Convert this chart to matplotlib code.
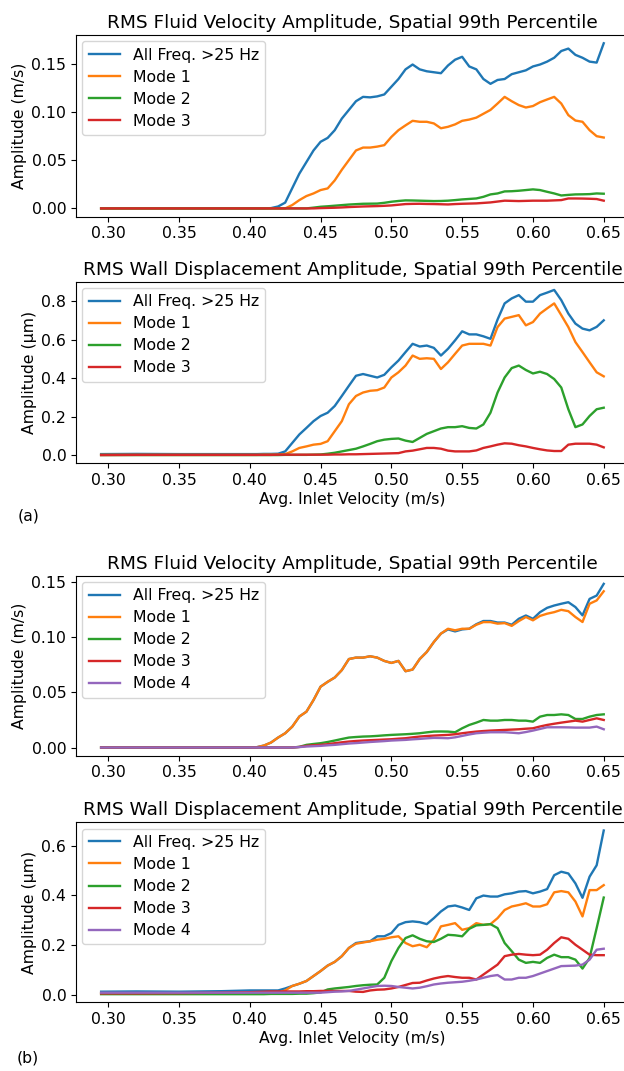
import numpy as np
import matplotlib
matplotlib.use("Agg")
import matplotlib.pyplot as plt

# sample positions (avg. inlet velocity, m/s)
v_low = [0.295, 0.32, 0.35, 0.38]
v_grid = [round(0.40 + 0.005 * i, 3) for i in range(51)]
vel = np.array(v_low + v_grid)

labels_a = ["All Freq. >25 Hz", "Mode 1", "Mode 2", "Mode 3"]
labels_b = ["All Freq. >25 Hz", "Mode 1", "Mode 2", "Mode 3", "Mode 4"]

# (a) fluid velocity, m/s
fa_all = [0, 0, 0, 0,
          0, 0, 0, 0.0003, 0.002, 0.006, 0.021, 0.036, 0.048, 0.060,
          0.069, 0.073, 0.081, 0.093, 0.102, 0.111, 0.1155, 0.115, 0.116, 0.118,
          0.126, 0.134, 0.144, 0.149, 0.144, 0.142, 0.141, 0.140, 0.148, 0.154,
          0.157, 0.147, 0.144, 0.134, 0.129, 0.133, 0.134, 0.139, 0.141, 0.143,
          0.147, 0.149, 0.152, 0.156, 0.163, 0.1655, 0.159, 0.156, 0.152, 0.151,
          0.171]
fa_m1 = [0, 0, 0, 0,
         0, 0, 0, 0, 0, 0, 0.0035, 0.0086, 0.0128, 0.0155,
         0.019, 0.0207, 0.029, 0.040, 0.050, 0.060, 0.063, 0.063, 0.064, 0.0655,
         0.074, 0.081, 0.086, 0.0907, 0.0897, 0.0897, 0.088, 0.083, 0.0845, 0.087,
         0.0907, 0.092, 0.094, 0.098, 0.102, 0.1086, 0.1155, 0.111, 0.107, 0.1045,
         0.106, 0.110, 0.1128, 0.1155, 0.1086, 0.0966, 0.091, 0.0897, 0.081, 0.0748,
         0.0734]
fa_m2 = [0, 0, 0, 0,
         0, 0, 0, 0, 0, 0, 0, 0, 0, 0.0008,
         0.0017, 0.0022, 0.0028, 0.0034, 0.004, 0.0044, 0.0048, 0.0049, 0.005, 0.0058,
         0.0069, 0.0077, 0.0083, 0.0082, 0.008, 0.0078, 0.0076, 0.0077, 0.008, 0.0086,
         0.0093, 0.0098, 0.0103, 0.012, 0.0145, 0.0155, 0.0176, 0.0178, 0.0183, 0.019,
         0.0197, 0.019, 0.0172, 0.0155, 0.0134, 0.014, 0.0145, 0.0146, 0.0148, 0.0155,
         0.0152]
fa_m3 = [0, 0, 0, 0,
         0, 0, 0, 0, 0, 0, 0, 0, 0, 0,
         0.0003, 0.0005, 0.0007, 0.001, 0.0014, 0.0017, 0.002, 0.0022, 0.0024, 0.0027,
         0.0031, 0.0038, 0.0045, 0.0047, 0.0048, 0.0046, 0.0045, 0.0043, 0.0041, 0.0045,
         0.0048, 0.005, 0.0052, 0.0057, 0.0062, 0.0071, 0.008, 0.0078, 0.0076, 0.0078,
         0.008, 0.008, 0.008, 0.0083, 0.0086, 0.0103, 0.0103, 0.0102, 0.01, 0.0097,
         0.008]

# (a) wall displacement, um
wa_all = [0.005, 0.006, 0.005, 0.005,
          0.005, 0.005, 0.006, 0.006, 0.007, 0.019, 0.063, 0.107, 0.141, 0.176,
          0.203, 0.22, 0.255, 0.307, 0.36, 0.412, 0.421, 0.412, 0.403, 0.417,
          0.456, 0.491, 0.535, 0.578, 0.564, 0.569, 0.557, 0.517, 0.552, 0.596,
          0.643, 0.627, 0.627, 0.617, 0.604, 0.704, 0.788, 0.814, 0.831, 0.797,
          0.797, 0.831, 0.844, 0.858, 0.805, 0.735, 0.683, 0.657, 0.648, 0.666,
          0.70]
wa_m1 = [0.001, 0.001, 0.001, 0.001,
         0.001, 0.001, 0.002, 0.002, 0.002, 0.005, 0.019, 0.037, 0.045, 0.054,
         0.058, 0.072, 0.124, 0.176, 0.264, 0.307, 0.325, 0.334, 0.337, 0.351,
         0.403, 0.43, 0.465, 0.517, 0.50, 0.503, 0.50, 0.447, 0.482, 0.526,
         0.569, 0.578, 0.578, 0.578, 0.569, 0.665, 0.709, 0.718, 0.727, 0.674,
         0.691, 0.735, 0.762, 0.788, 0.727, 0.665, 0.587, 0.535, 0.482, 0.43,
         0.409]
wa_m2 = [0, 0, 0, 0,
         0, 0, 0, 0, 0, 0.001, 0.001, 0.001, 0.001, 0.002,
         0.003, 0.007, 0.012, 0.019, 0.026, 0.033, 0.045, 0.058, 0.072, 0.080,
         0.084, 0.086, 0.075, 0.068, 0.089, 0.11, 0.124, 0.138, 0.145, 0.145,
         0.150, 0.141, 0.138, 0.159, 0.22, 0.325, 0.403, 0.452, 0.465, 0.442,
         0.424, 0.433, 0.421, 0.395, 0.351, 0.238, 0.145, 0.159, 0.203, 0.238,
         0.246]
wa_m3 = [0, 0.001, 0.001, 0.001,
         0.001, 0.001, 0.001, 0.001, 0.002, 0.002, 0.002, 0.002, 0.002, 0.002,
         0.002, 0.002, 0.003, 0.003, 0.004, 0.004, 0.005, 0.006, 0.007, 0.008,
         0.009, 0.010, 0.019, 0.023, 0.03, 0.037, 0.037, 0.033, 0.023, 0.019,
         0.019, 0.019, 0.024, 0.037, 0.045, 0.054, 0.061, 0.059, 0.051, 0.045,
         0.037, 0.03, 0.024, 0.021, 0.021, 0.054, 0.059, 0.059, 0.059, 0.054,
         0.04]

# (b) fluid velocity, m/s
fb_all = [0, 0, 0, 0,
          0, 0.0003, 0.0018, 0.0045, 0.009, 0.0129, 0.0189, 0.028, 0.0324, 0.0429,
          0.055, 0.0594, 0.0633, 0.070, 0.080, 0.0813, 0.0813, 0.0825, 0.0813, 0.0783,
          0.0765, 0.0783, 0.069, 0.0705, 0.080, 0.0864, 0.0954, 0.103, 0.1068, 0.105,
          0.1068, 0.1074, 0.1115, 0.1144, 0.1144, 0.113, 0.113, 0.111, 0.1164, 0.1194,
          0.1164, 0.1224, 0.1263, 0.1284, 0.130, 0.1314, 0.127, 0.1195, 0.1344, 0.1374,
          0.148]
fb_m1 = [0, 0, 0, 0,
         0, 0.0003, 0.0018, 0.0045, 0.009, 0.0129, 0.0189, 0.028, 0.0324, 0.0429,
         0.055, 0.0594, 0.0633, 0.070, 0.080, 0.0813, 0.0813, 0.0825, 0.0813, 0.0783,
         0.0765, 0.0783, 0.069, 0.0705, 0.080, 0.0864, 0.0954, 0.103, 0.1074, 0.106,
         0.1074, 0.1074, 0.111, 0.1134, 0.1134, 0.112, 0.1125, 0.110, 0.1143, 0.118,
         0.115, 0.119, 0.121, 0.1224, 0.1245, 0.1233, 0.118, 0.1135, 0.130, 0.133,
         0.1413]
fb_m2 = [0, 0, 0, 0,
         0, 0, 0, 0, 0, 0, 0, 0.0006, 0.0024, 0.0032,
         0.0039, 0.005, 0.0063, 0.0077, 0.009, 0.0095, 0.0099, 0.0101, 0.0105, 0.011,
         0.0114, 0.0117, 0.012, 0.0124, 0.0129, 0.0137, 0.0144, 0.0145, 0.0144, 0.0138,
         0.0174, 0.0204, 0.0225, 0.0249, 0.0243, 0.0243, 0.0249, 0.0249, 0.0243, 0.0243,
         0.0234, 0.0279, 0.0294, 0.0294, 0.030, 0.0294, 0.0258, 0.0258, 0.0279, 0.0294,
         0.030]
fb_m3 = [0, 0, 0, 0,
         0, 0, 0, 0, 0, 0, 0, 0.0005, 0.0015, 0.002,
         0.0024, 0.003, 0.0039, 0.0047, 0.0054, 0.0059, 0.0063, 0.0066, 0.0069, 0.0072,
         0.0075, 0.008, 0.0084, 0.0092, 0.0099, 0.0104, 0.0108, 0.0111, 0.0114, 0.012,
         0.0129, 0.0137, 0.0144, 0.0149, 0.0153, 0.0156, 0.0159, 0.0162, 0.0165, 0.017,
         0.0174, 0.019, 0.0204, 0.0215, 0.0225, 0.0234, 0.0243, 0.0234, 0.0249, 0.0264,
         0.0249]
fb_m4 = [0, 0, 0, 0,
         0, 0, 0, 0, 0, 0, 0, 0.0004, 0.0009, 0.0012,
         0.0015, 0.002, 0.0024, 0.003, 0.0036, 0.004, 0.0045, 0.005, 0.0054, 0.0058,
         0.0063, 0.0066, 0.0069, 0.0074, 0.0078, 0.0083, 0.0087, 0.0086, 0.0084, 0.0092,
         0.0105, 0.0118, 0.0129, 0.0134, 0.0138, 0.0138, 0.0138, 0.0134, 0.0129, 0.014,
         0.0153, 0.0168, 0.0183, 0.0183, 0.0183, 0.0182, 0.018, 0.018, 0.018, 0.0189,
         0.0165]

# (b) wall displacement, um
wb_all = [0.012, 0.013, 0.012, 0.014,
          0.017, 0.017, 0.017, 0.017, 0.017, 0.025, 0.035, 0.044, 0.055, 0.075,
          0.095, 0.117, 0.132, 0.155, 0.188, 0.208, 0.212, 0.215, 0.235, 0.235,
          0.248, 0.281, 0.292, 0.295, 0.292, 0.284, 0.308, 0.335, 0.355, 0.359,
          0.351, 0.341, 0.388, 0.399, 0.395, 0.395, 0.404, 0.408, 0.415, 0.417,
          0.408, 0.415, 0.425, 0.481, 0.495, 0.488, 0.448, 0.39, 0.475, 0.521,
          0.661]
wb_m1 = [0.005, 0.005, 0.005, 0.005,
         0.006, 0.006, 0.007, 0.007, 0.008, 0.017, 0.035, 0.044, 0.055, 0.075,
         0.095, 0.117, 0.132, 0.155, 0.188, 0.205, 0.210, 0.215, 0.221, 0.225,
         0.231, 0.235, 0.208, 0.195, 0.201, 0.191, 0.221, 0.275, 0.281, 0.288,
         0.261, 0.268, 0.288, 0.281, 0.284, 0.308, 0.341, 0.355, 0.361, 0.368,
         0.355, 0.355, 0.364, 0.412, 0.417, 0.412, 0.375, 0.315, 0.421, 0.421,
         0.441]
wb_m2 = [0.002, 0.002, 0.002, 0.002,
         0.002, 0.002, 0.002, 0.003, 0.003, 0.003, 0.003, 0.004, 0.004, 0.006,
         0.009, 0.021, 0.025, 0.028, 0.031, 0.035, 0.038, 0.040, 0.041, 0.068,
         0.135, 0.188, 0.228, 0.239, 0.225, 0.215, 0.212, 0.225, 0.241, 0.239,
         0.235, 0.265, 0.279, 0.281, 0.284, 0.268, 0.208, 0.175, 0.141, 0.128,
         0.132, 0.128, 0.148, 0.161, 0.151, 0.151, 0.141, 0.105, 0.148, 0.268,
         0.391]
wb_m3 = [0.005, 0.005, 0.006, 0.008,
         0.01, 0.011, 0.012, 0.013, 0.013, 0.013, 0.013, 0.013, 0.014, 0.014,
         0.015, 0.015, 0.015, 0.015, 0.015, 0.012, 0.011, 0.017, 0.02, 0.021,
         0.025, 0.031, 0.039, 0.047, 0.048, 0.057, 0.065, 0.071, 0.075, 0.071,
         0.068, 0.068, 0.061, 0.081, 0.101, 0.121, 0.155, 0.161, 0.164, 0.161,
         0.159, 0.161, 0.181, 0.208, 0.231, 0.225, 0.201, 0.181, 0.161, 0.159,
         0.159]
wb_m4 = [0.008, 0.008, 0.008, 0.008,
         0.008, 0.008, 0.008, 0.008, 0.008, 0.008, 0.008, 0.008, 0.008, 0.008,
         0.008, 0.01, 0.012, 0.013, 0.015, 0.02, 0.025, 0.03, 0.035, 0.036,
         0.035, 0.031, 0.028, 0.025, 0.028, 0.034, 0.041, 0.045, 0.048, 0.05,
         0.052, 0.056, 0.061, 0.068, 0.075, 0.079, 0.061, 0.061, 0.068, 0.068,
         0.075, 0.085, 0.095, 0.105, 0.115, 0.116, 0.117, 0.121, 0.141, 0.181,
         0.185]

fluid_title = "RMS Fluid Velocity Amplitude, Spatial 99th Percentile"
wall_title = "RMS Wall Displacement Amplitude, Spatial 99th Percentile"

fig = plt.figure(figsize=(6.24, 10.71), dpi=100)

panels = [
    ([0.1218, 0.7977, 0.886, 0.1696], fluid_title, "Amplitude (m/s)",
     [fa_all, fa_m1, fa_m2, fa_m3], labels_a, False),
    ([0.1218, 0.5674, 0.886, 0.1696], wall_title, "Amplitude (\u00b5m)",
     [wa_all, wa_m1, wa_m2, wa_m3], labels_a, True),
    ([0.1218, 0.2944, 0.886, 0.1681], fluid_title, "Amplitude (m/s)",
     [fb_all, fb_m1, fb_m2, fb_m3, fb_m4], labels_b, False),
    ([0.1218, 0.0641, 0.886, 0.1681], wall_title, "Amplitude (\u00b5m)",
     [wb_all, wb_m1, wb_m2, wb_m3, wb_m4], labels_b, True),
]

fs = 11.3
for rect, title, ylab, series, labels, show_xlabel in panels:
    ax = fig.add_axes(rect)
    for ys, lab in zip(series, labels):
        ax.plot(vel, ys, label=lab, lw=1.7)
    ax.set_title(title, fontsize=13.3, pad=5)
    ax.set_ylabel(ylab, fontsize=fs, labelpad=3)
    ax.tick_params(labelsize=fs)
    ax.set_xticks([0.30, 0.35, 0.40, 0.45, 0.50, 0.55, 0.60, 0.65])
    ax.legend(loc="upper left", fontsize=fs, borderaxespad=0.4,
              labelspacing=0.45)
    if show_xlabel:
        ax.set_xlabel("Avg. Inlet Velocity (m/s)", fontsize=fs, labelpad=3)

fig.text(0.045, 1 - 516 / 1071, "(a)", fontsize=fs, ha="center", va="center")
fig.text(0.045, 1 - 1058 / 1071, "(b)", fontsize=fs, ha="center", va="center")

fig.savefig("out.png", dpi=100)
